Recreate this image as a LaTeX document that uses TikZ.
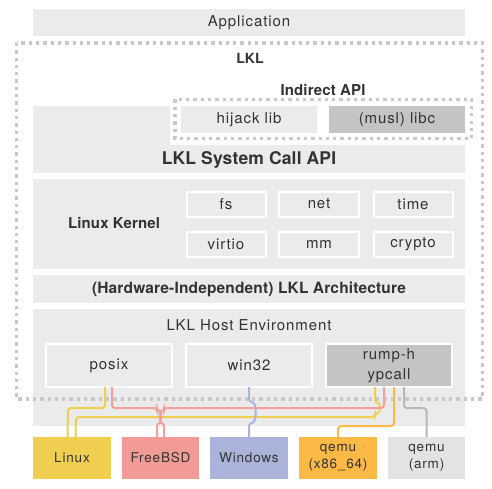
\documentclass[tikz,border=0pt]{standalone}
\usepackage{fontspec}
\setmainfont{TeX Gyre Heros}[LetterSpace=6]
\newfontfamily\bfam{TeX Gyre Heros}[LetterSpace=1]
\usetikzlibrary{calc}
\definecolor{boxgray}{HTML}{EBEBEB}
\definecolor{dkgray}{HTML}{C4C4C4}
\definecolor{dotc}{HTML}{C8C8C8}
\definecolor{txt}{HTML}{333333}
\definecolor{cyel}{HTML}{F0CF50}
\definecolor{csal}{HTML}{F29B96}
\definecolor{clav}{HTML}{AAB3DA}
\definecolor{corg}{HTML}{FDB946}
\definecolor{clgr}{HTML}{E3E3E3}
\definecolor{lred}{HTML}{F4A09A}
\definecolor{lgry}{HTML}{B8B8B8}
\begin{document}
\begin{tikzpicture}[x=1pt,y=-1pt,
  every node/.style={inner sep=0pt, outer sep=0pt, text=txt},
  reg/.style={font=\fontsize{15}{18}\selectfont},
  small/.style={font=\fontsize{13.5}{17}\selectfont},
  bld/.style={font=\bfam\bfseries\fontsize{#1}{18}\selectfont},
  band/.style={fill=boxgray, minimum width=432pt},
  cell/.style={fill=boxgray, draw=white, line width=2pt, reg},
  dcell/.style={fill=dkgray, draw=white, line width=2pt, reg},
  base/.style={minimum width=77.5pt, minimum height=42pt, small, align=center},
  dotframe/.style={draw=dotc, line width=3.3pt, dash pattern=on 3.3pt off 4pt},
  conn/.style={line width=2pt, rounded corners=3pt}
]
\useasboundingbox (0,0) rectangle (492,489);
\fill[white] (0,0) rectangle (492,489);

% Application
\node[band, minimum height=27pt, reg] (app) at (249,22.5) {Application};

% LKL titles
\node[bld=14] (lkl) at (250,58) {LKL};
\node[bld=15] (indirect) at (323,89.5) {Indirect API};

% System call API (L-shape)
\fill[boxgray] (33,106) -- (170,106) -- (170,145) -- (465,145) -- (465,173) -- (33,173) -- cycle;
\node[bld=17.5] (syscall) at (249,159.5) {LKL System Call API};

% Indirect API boxes
\node[fill=boxgray, minimum width=136pt, minimum height=27pt, reg] (hijack) at (249,119.5) {hijack lib};
\node[fill=dkgray, minimum width=136pt, minimum height=27pt, reg] (musl) at (397,119.5) {(musl) libc};

% Linux kernel
\node[band, minimum height=90pt] (kernel) at (249,224) {};
\node[bld=15] (kerneltxt) at (114,223) {Linux Kernel};
\node[cell, minimum width=79pt, minimum height=25pt] (fs) at (226,204) {fs};
\node[cell, minimum width=80pt, minimum height=25pt] (net) at (319,204) {net};
\node[cell, minimum width=79pt, minimum height=25pt] (time) at (413,204) {time};
\node[cell, minimum width=79pt, minimum height=25pt] (virtio) at (226,244) {virtio};
\node[cell, minimum width=80pt, minimum height=25pt] (mm) at (319,244) {mm};
\node[cell, minimum width=79pt, minimum height=25pt] (crypto) at (413,244) {crypto};

% Hardware independent arch
\node[band, minimum height=28pt, bld=15.5] (arch) at (249,289) {(Hardware-Independent) LKL Architecture};

% Host environment
\node[band, minimum height=117pt] (host) at (249,367.5) {};
\node[reg] (hosttxt) at (249,325) {LKL Host Environment};
\node[cell, minimum width=126pt, minimum height=43pt] (posix) at (109,365.5) {posix};
\node[cell, minimum width=126pt, minimum height=43pt] (win32) at (249,365.5) {win32};
\node[dcell, minimum width=126pt, minimum height=43pt, align=center, font=\fontsize{15}{19.5}\selectfont] (rump) at (389,365.5) {rump-h\\ypcall};

% dotted frames
\draw[dotframe] (16.7,43) rectangle (482.3,399);
\draw[dotframe] (175,99.5) rectangle (471.7,138.5);

% bottom platforms
\node[base, fill=cyel] (linux) at (72,458) {Linux};
\node[base, fill=csal] (freebsd) at (160.5,458) {FreeBSD};
\node[base, fill=clav] (windows) at (249,458) {Windows};
\node[base, fill=corg] (qemux) at (338,458) {qemu\\(x86\_64)};
\node[base, fill=clgr] (qemuarm) at (426.5,458) {qemu\\(arm)};

% connectors
\draw[conn, cyel] ([xshift=-4pt]posix.south) |- (68,408) -- ([xshift=-4.5pt]linux.north);
\draw[conn, cyel] ([xshift=-14pt]rump.south) -- (375,403)
   .. controls (380.5,403) and (380.5,413) .. (375,413) -- (375,417) -- (76,417) -- ([xshift=3.5pt]linux.north);
\draw[conn, lred] ([xshift=3pt]posix.south) |- (157,408) -- (157,411)
   .. controls (161.5,411) and (161.5,423) .. (157,423) -- ([xshift=-3.5pt]freebsd.north);
\draw[conn, lred] ([xshift=-5pt]rump.south) |- (164,408) -- (164,411)
   .. controls (159.5,411) and (159.5,423) .. (164,423) -- ([xshift=3.5pt]freebsd.north);
\draw[conn, clav] (win32.south) -- (249,402)
   .. controls (257,402) and (257,423) .. (249,423) -- (windows.north);
\draw[conn, corg] ([xshift=5pt]rump.south) |- (338,426) -- (qemux.north);
\draw[conn, lgry] ([xshift=15pt]rump.south) |- (426.5,408) -- (qemuarm.north);
\end{tikzpicture}
\end{document}
